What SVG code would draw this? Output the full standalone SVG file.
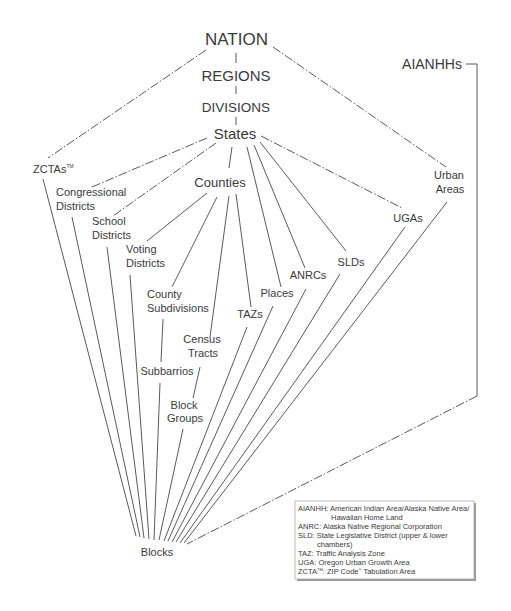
<svg xmlns="http://www.w3.org/2000/svg" width="511" height="611" viewBox="0 0 511 611">
<style>
text{font-family:"Liberation Sans",Arial,sans-serif;fill:#3a3a3a}
.s{font-size:11px}
.c{text-anchor:middle}
.ln{stroke:#5a5a5a;stroke-width:1;fill:none}
.dd{stroke:#5a5a5a;stroke-width:1;fill:none;stroke-dasharray:9 2 1.5 2}
.lg{font-size:7.5px}
</style>
<rect width="511" height="611" fill="#fff"/>
<g id="connectors">
<line class="ln" x1="236" y1="53" x2="236" y2="63"/>
<line class="ln" x1="236" y1="86" x2="236" y2="94"/>
<line class="ln" x1="236" y1="117" x2="236" y2="125"/>
<line class="dd" x1="206" y1="50" x2="48" y2="158"/>
<line class="dd" x1="273" y1="47" x2="446" y2="167"/>
<line class="dd" x1="207" y1="138" x2="92" y2="187"/>
<line class="dd" x1="216" y1="143" x2="113" y2="216"/>
<line class="dd" x1="261" y1="136" x2="402" y2="208"/>
<line class="ln" x1="232" y1="147" x2="229" y2="168"/>
<line class="ln" x1="247" y1="147" x2="281" y2="287"/>
<line class="ln" x1="254" y1="145" x2="305" y2="268"/>
<line class="ln" x1="260" y1="142" x2="346" y2="251"/>
<line class="ln" x1="207" y1="193" x2="147" y2="241"/>
<line class="ln" x1="217" y1="197" x2="172" y2="287"/>
<line class="ln" x1="229" y1="196" x2="210" y2="337"/>
<line class="ln" x1="236" y1="194" x2="251" y2="307"/>
<line class="ln" x1="163" y1="319" x2="161" y2="362"/>
<line class="ln" x1="200" y1="367" x2="193" y2="398"/>
<line class="ln" x1="43" y1="179" x2="136" y2="536"/>
<line class="ln" x1="72" y1="217" x2="140" y2="537"/>
<line class="ln" x1="107" y1="247" x2="144" y2="538"/>
<line class="ln" x1="130" y1="275" x2="149" y2="539"/>
<line class="ln" x1="160" y1="383" x2="154" y2="540"/>
<line class="ln" x1="183" y1="429" x2="159" y2="540"/>
<line class="ln" x1="247" y1="327" x2="164" y2="541"/>
<line class="ln" x1="273" y1="306" x2="168" y2="541"/>
<line class="ln" x1="306" y1="289" x2="172" y2="542"/>
<line class="ln" x1="340" y1="274" x2="176" y2="542"/>
<line class="ln" x1="405" y1="227" x2="180" y2="543"/>
<line class="ln" x1="447" y1="202" x2="184" y2="543"/>
<polyline class="ln" points="466,64 477,64 477,396"/>
<line class="dd" x1="477" y1="396" x2="187" y2="544"/>
</g>
<g id="nation"><text x="236.5" y="45" class="c" font-size="17">NATION</text></g>
<g id="regions"><text x="236" y="81" class="c" font-size="15">REGIONS</text></g>
<g id="divisions"><text x="236" y="112" class="c" font-size="13.5">DIVISIONS</text></g>
<g id="states"><text x="235" y="139" class="c" font-size="15">States</text></g>
<g id="aianhhs"><text x="432" y="69" class="c" font-size="14">AIANHHs</text></g>
<g id="zctas"><text x="33" y="173" class="s">ZCTAs<tspan font-size="5" dy="-5">TM</tspan></text></g>
<g id="congressional"><text x="56" y="196" class="s">Congressional</text><text x="56" y="210" class="s">Districts</text></g>
<g id="school"><text x="92" y="225" class="s">School</text><text x="92" y="239" class="s">Districts</text></g>
<g id="voting"><text x="126" y="253" class="s">Voting</text><text x="126" y="267" class="s">Districts</text></g>
<g id="counties"><text x="220" y="187" class="c" font-size="13">Counties</text></g>
<g id="countysub"><text x="147" y="298" class="s">County</text><text x="147" y="312" class="s">Subdivisions</text></g>
<g id="tazs"><text x="250" y="318" class="s c">TAZs</text></g>
<g id="census"><text x="202" y="343" class="s c">Census</text><text x="203" y="357" class="s c">Tracts</text></g>
<g id="subbarrios"><text x="167" y="375" class="s c">Subbarrios</text></g>
<g id="blockgroups"><text x="184" y="409" class="s c">Block</text><text x="185" y="422" class="s c">Groups</text></g>
<g id="places"><text x="277" y="297" class="s c">Places</text></g>
<g id="anrcs"><text x="308" y="279" class="s c">ANRCs</text></g>
<g id="slds"><text x="351" y="266" class="s c">SLDs</text></g>
<g id="ugas"><text x="408" y="222" class="s c">UGAs</text></g>
<g id="urban"><text x="449" y="179" class="s c">Urban</text><text x="450" y="193" class="s c">Areas</text></g>
<g id="blocks"><text x="157" y="556" class="s c">Blocks</text></g>
<g id="legend">
<rect x="297" y="503" width="179" height="78" fill="#9a9a9a"/>
<rect x="295" y="501" width="179" height="78" fill="#fff" stroke="#aaa" stroke-width="0.8"/>
<text class="lg" x="298" y="511">AIANHH: American Indian Area/Alaska Native Area/</text>
<text class="lg" x="331" y="520">Hawaiian Home Land</text>
<text class="lg" x="298" y="529">ANRC: Alaska Native Regional Corporation</text>
<text class="lg" x="298" y="538">SLD: State Legislative District (upper &amp; lower</text>
<text class="lg" x="317" y="547">chambers)</text>
<text class="lg" x="298" y="556">TAZ: Traffic Analysis Zone</text>
<text class="lg" x="298" y="565">UGA: Oregon Urban Growth Area</text>
<text class="lg" x="298" y="574">ZCTA<tspan font-size="4" dy="-3">TM</tspan><tspan dy="3">: ZIP Code</tspan><tspan font-size="4" dy="-3">®</tspan><tspan dy="3"> Tabulation Area</tspan></text>
</g>
</svg>
